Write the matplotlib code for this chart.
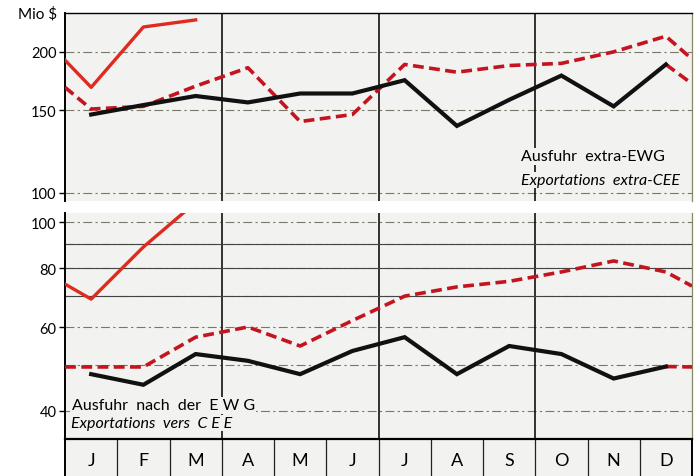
import matplotlib
matplotlib.use("Agg")
import matplotlib.pyplot as plt
from matplotlib.ticker import FixedLocator, NullLocator

plt.rcParams['font.family'] = ['Lato', 'DejaVu Sans']

months = ['J', 'F', 'M', 'A', 'M', 'J', 'J', 'A', 'S', 'O', 'N', 'D']

# upper panel: Ausfuhr extra-EWG (Mio $)
extra_cur = [168, 226, 234]                      # red solid, Jan-Mar
extra_cur_start = 192                            # carried in from previous December
extra_prev = [151, 153, 169, 185, 142, 147, 188, 181, 187, 189, 200, 216]  # red dashed
extra_prev_start = 168
extra_prev_end = 193
extra_mid = [147, 154, 161, 156, 163, 163, 174, 139, 158, 178, 153, 188]   # black
extra_mid_end = 171

# lower panel: Ausfuhr nach der EWG (Mio $)
ewg_cur = [68.8, 88.6, 110]
ewg_cur_start = 74
ewg_prev = [49.5, 49.5, 57.2, 60.1, 54.8, 62, 69.8, 73, 75, 78.5, 82.8, 78.5]
ewg_prev_start = 49.5
ewg_prev_end = 73.3
ewg_mid = [47.8, 45.4, 52.7, 51, 47.8, 53.5, 57.2, 47.8, 54.8, 52.7, 46.8, 49.6]
ewg_mid_end = 49.5

top_ticks = [100, 150, 200]
top_grid = [100, 150, 200]
bot_ticks = [40, 60, 80, 100]
bot_grid = [40, 50, 60, 70, 80, 90, 100]

RED = '#de2a1f'
DRED = '#c4141f'
BG = '#f2f2f0'
DASH = (3.0, 1.5)

x = list(range(12))
left_edge = -0.5
right_edge = 11.5

fig = plt.figure(figsize=(7, 4.77), dpi=100)
ax_top = fig.add_axes([0.0929, 0.5765, 0.8957, 0.394])
ax_bot = fig.add_axes([0.0929, 0.0776, 0.8957, 0.4738])
ax_mon = fig.add_axes([0.0929, -0.01, 0.8957, 0.0876])


def draw_panel(ax, cur, cur_start, prev, prev_start, prev_end, mid, mid_end,
               ylim, ticks, grid):
    ax.set_facecolor(BG)
    ax.set_yscale('log')
    ax.set_xlim(left_edge, right_edge)
    ax.set_ylim(*ylim)
    for g in grid:
        ax.axhline(g, color='#77776a', lw=0.8, ls=(0, (8, 3, 2, 3)), zorder=1)
    for q in (2.5, 5.5, 8.5):
        ax.axvline(q, color='#111111', lw=1.2, zorder=1)
    # red dashed (previous year)
    ax.plot([left_edge] + x + [right_edge], [prev_start] + prev + [prev_end],
            color=DRED, lw=2.6, dashes=DASH, zorder=3)
    # black line
    ax.plot(x, mid, color='#111111', lw=3.0, zorder=4, solid_joinstyle='miter')
    ax.plot([x[-1], right_edge], [mid[-1], mid_end], color=DRED, lw=2.6,
            dashes=DASH, zorder=3)
    # red solid (current year)
    ax.plot([left_edge] + x[:len(cur)], [cur_start] + cur, color=RED, lw=2.4,
            zorder=5)
    ax.yaxis.set_major_locator(FixedLocator(ticks))
    ax.yaxis.set_minor_locator(NullLocator())
    ax.set_yticklabels([str(t) for t in ticks])
    ax.tick_params(axis='y', length=4, width=1, labelsize=10.5, pad=2)
    ax.set_xticks([])
    for s in ('top', 'bottom'):
        ax.spines[s].set_visible(False)
    ax.spines['left'].set_linewidth(1.4)
    ax.spines['right'].set_color('#888866')
    ax.spines['right'].set_linewidth(0.9)


draw_panel(ax_top, extra_cur, extra_cur_start, extra_prev, extra_prev_start,
           extra_prev_end, extra_mid, extra_mid_end, (96.1, 242),
           top_ticks, top_grid)
ax_top.spines['top'].set_visible(True)
ax_top.spines['top'].set_linewidth(1.0)

draw_panel(ax_bot, ewg_cur, ewg_cur_start, ewg_prev, ewg_prev_start,
           ewg_prev_end, ewg_mid, ewg_mid_end, (34.9, 104.5),
           bot_ticks, bot_grid)
for g in (70, 80, 90):
    ax_bot.axhline(g, color='#444444', lw=0.8, zorder=1)

ax_top.text(-0.012, 1.0, 'Mio $', transform=ax_top.transAxes, ha='right',
            va='center', fontsize=11)

lab = dict(ha='left', va='center', fontsize=11.5, zorder=6,
           bbox=dict(facecolor=BG, edgecolor='none', pad=1))
ax_top.text(0.727, 0.239, 'Ausfuhr  extra-EWG', transform=ax_top.transAxes, **lab)
ax_top.text(0.727, 0.112, 'Exportations  extra-CEE', transform=ax_top.transAxes,
            style='italic', **lab)
ax_bot.text(0.011, 0.150, 'Ausfuhr  nach  der  E W G', transform=ax_bot.transAxes, **lab)
ax_bot.text(0.009, 0.071, 'Exportations  vers  C E E', transform=ax_bot.transAxes,
            style='italic', **lab)

# month band
ax_mon.set_facecolor(BG)
ax_mon.set_xlim(left_edge, right_edge)
ax_mon.set_ylim(0, 1)
for i in range(11):
    ax_mon.axvline(i + 0.5, color='#222222', lw=0.9)
for i, m in enumerate(months):
    ax_mon.text(i, 0.5, m, ha='center', va='center', fontsize=13)
ax_mon.set_xticks([])
ax_mon.set_yticks([])
ax_mon.spines['top'].set_linewidth(1.6)
ax_mon.spines['left'].set_linewidth(1.4)
ax_mon.spines['right'].set_linewidth(1.4)

fig.savefig('out.png', dpi=100, facecolor='white')
